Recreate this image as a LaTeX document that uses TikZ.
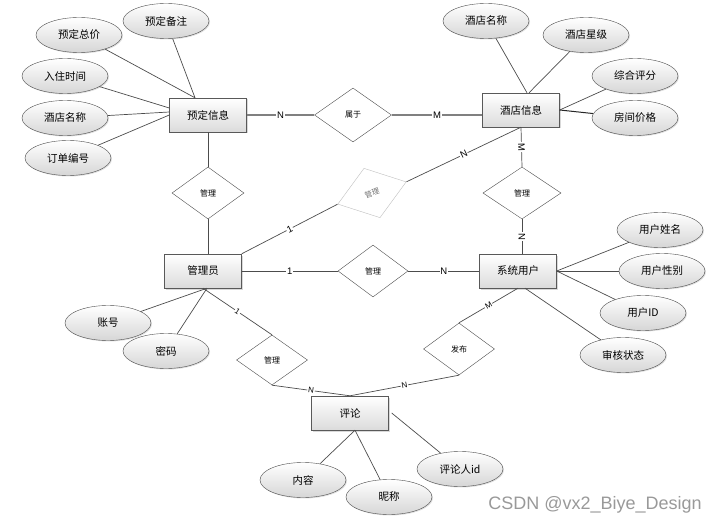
\documentclass[tikz,border=0pt]{standalone}
\usepackage{fontspec}
\setmainfont{Liberation Sans}
\newfontfamily\cjk{Noto Sans CJK SC}
\usepackage{tikz}
\usepackage{xcolor}
\usetikzlibrary{shapes.geometric}
\usetikzlibrary{shadows}

\tikzset{
	entity/.style={draw=black!65,top color=white,bottom color=black!14,minimum width=77pt,minimum height=34pt,inner sep=0pt,font=\cjk\fontsize{10.5}{12}\selectfont,drop shadow={shadow xshift=1.5pt,shadow yshift=-1.5pt,opacity=0.3}},
	attr/.style={ellipse,draw=black!70,top color=white,bottom color=black!16,minimum width=86pt,minimum height=35pt,inner sep=0pt,font=\cjk\fontsize{10.5}{12}\selectfont,drop shadow={shadow xshift=1pt,shadow yshift=-1pt,opacity=0.25}},
	rel/.style={diamond,draw=black!70,fill=white,minimum width=72pt,minimum height=52pt,inner sep=0pt,font=\cjk\fontsize{8}{9}\selectfont},
	link/.style={draw=black!70,line width=0.7pt},
	lbl/.style={fill=white,inner sep=0.8pt,font=\fontsize{9.5}{10}\selectfont}
}

\begin{document}
\begin{tikzpicture}[x=1pt,y=-1pt]
		\useasboundingbox (0,0) rectangle (718,524);
		\node[entity] (ydxx) at (208,115) {预定信息};
		\node[entity] (jdxx) at (521,110) {酒店信息};
		\node[entity] (gly) at (203,271) {管理员};
		\node[entity] (xtyh) at (518,271) {系统用户};
		\node[entity] (pl) at (350,413) {评论};
		\node[rel,minimum width=77pt,minimum height=54pt] (sy) at (353,115) {属于};
		\node[rel] (gla) at (208,193) {管理};
		\node[rel,draw=black!25,text=black!55,rotate=18,font=\cjk\fontsize{7.5}{8}\selectfont] (glb) at (372,193) {管理};
		\node[rel,minimum width=78pt] (glc) at (522,193) {管理};
		\node[rel,minimum width=70pt] (gld) at (373,271) {管理};
		\node[rel,minimum width=71pt,minimum height=50pt] (gle) at (272,360) {管理};
		\node[rel,minimum width=71pt] (fb) at (459,349) {发布};
		\node[attr] (zj) at (79,35) {预定总价};
		\node[attr] (bz) at (166,21) {预定备注};
		\node[attr] (rz) at (65,76) {入住时间};
		\node[attr] (mca) at (65,118) {酒店名称};
		\node[attr] (dd) at (68,158) {订单编号};
		\node[attr] (mcb) at (486,21) {酒店名称};
		\node[attr] (xj) at (586,35) {酒店星级};
		\node[attr] (pf) at (635,76) {综合评分};
		\node[attr] (jg) at (635,118) {房间价格};
		\node[attr] (xm) at (660,230) {用户姓名};
		\node[attr] (xb) at (662,271) {用户性别};
		\node[attr] (uid) at (643,313) {用户ID};
		\node[attr] (zt) at (623,355) {审核状态};
		\node[attr] (zh) at (108,323) {账号};
		\node[attr] (mm) at (166,351) {密码};
		\node[attr] (nr) at (303,480) {内容};
		\node[attr] (nc) at (389,497) {昵称};
		\node[attr] (plr) at (460,469) {评论人id};
		\draw [link] (zj) -- ([xshift=-13pt]ydxx.north);
		\draw [link] (bz) -- ([xshift=-13pt]ydxx.north);
		\draw [link] (rz) -- ([yshift=7pt]ydxx.west);
		\draw [link] (mca) -- ([yshift=3pt]ydxx.west);
		\draw [link] (dd) -- (ydxx.west);
		\draw [link] (mcb) -- ([xshift=6pt]jdxx.north);
		\draw [link] (xj) -- ([xshift=8pt]jdxx.north);
		\draw [link] (pf) -- (jdxx.east);
		\draw [link,line width=1pt,draw=black!85] (jg) -- (jdxx.east);
		\draw [link] (xm) -- (xtyh.east);
		\draw [link] (xb) -- (xtyh.east);
		\draw [link] (uid) -- (xtyh.east);
		\draw [link] (zt) -- ([xshift=7pt]xtyh.south);
		\draw [link] (zh) -- ([xshift=4pt]gly.south);
		\draw [link] (mm) -- ([xshift=4pt]gly.south);
		\draw [link] (nr) -- ([xshift=5pt]pl.south);
		\draw [link] (nc) -- ([xshift=5pt]pl.south);
		\draw [link] (plr) -- ([xshift=3pt]pl.east);
		\draw [link,draw=black!50,line width=1.1pt] (ydxx) -- node[lbl]{N} (sy);
		\draw [link,draw=black!50,line width=1.1pt] (sy.east) -- node[lbl]{M} (sy.east -| jdxx.west);
		\draw [link] (ydxx) -- (gla);
		\draw [link] (gla.south) -- (gla.south |- gly.north);
		\draw [link] (gly) -- node[lbl]{1} (gld);
		\draw [link] (gld) -- node[lbl]{N} (xtyh);
		\draw [link] (gly.north east) -- node[lbl,sloped]{1} (glb.west);
		\draw [link] (glb.east) -- node[lbl,sloped]{N} (jdxx.south);
		\draw [link] (jdxx.south) -- node[lbl,sloped]{M} (glc.north);
		\draw [link] (glc.south) -- node[lbl,sloped]{N} (glc.south |- xtyh.north);
		\draw [link] (gly.south) -- node[lbl,sloped,font=\fontsize{8}{9}\selectfont]{1} (gle.north);
		\draw [link] (gle.south) -- node[lbl,sloped,font=\fontsize{8}{9}\selectfont]{N} (pl.north);
		\draw [link] (pl.north) -- node[lbl,sloped,font=\fontsize{8}{9}\selectfont]{N} (fb.south);
		\draw [link] (fb.north) -- node[lbl,sloped,font=\fontsize{8}{9}\selectfont]{M} (xtyh.south);
		\node[font=\fontsize{18}{20}\selectfont,text=black!40] (wm) at (595,505) {CSDN @vx2\_Biye\_Design};
	\end{tikzpicture}
\end{document}
